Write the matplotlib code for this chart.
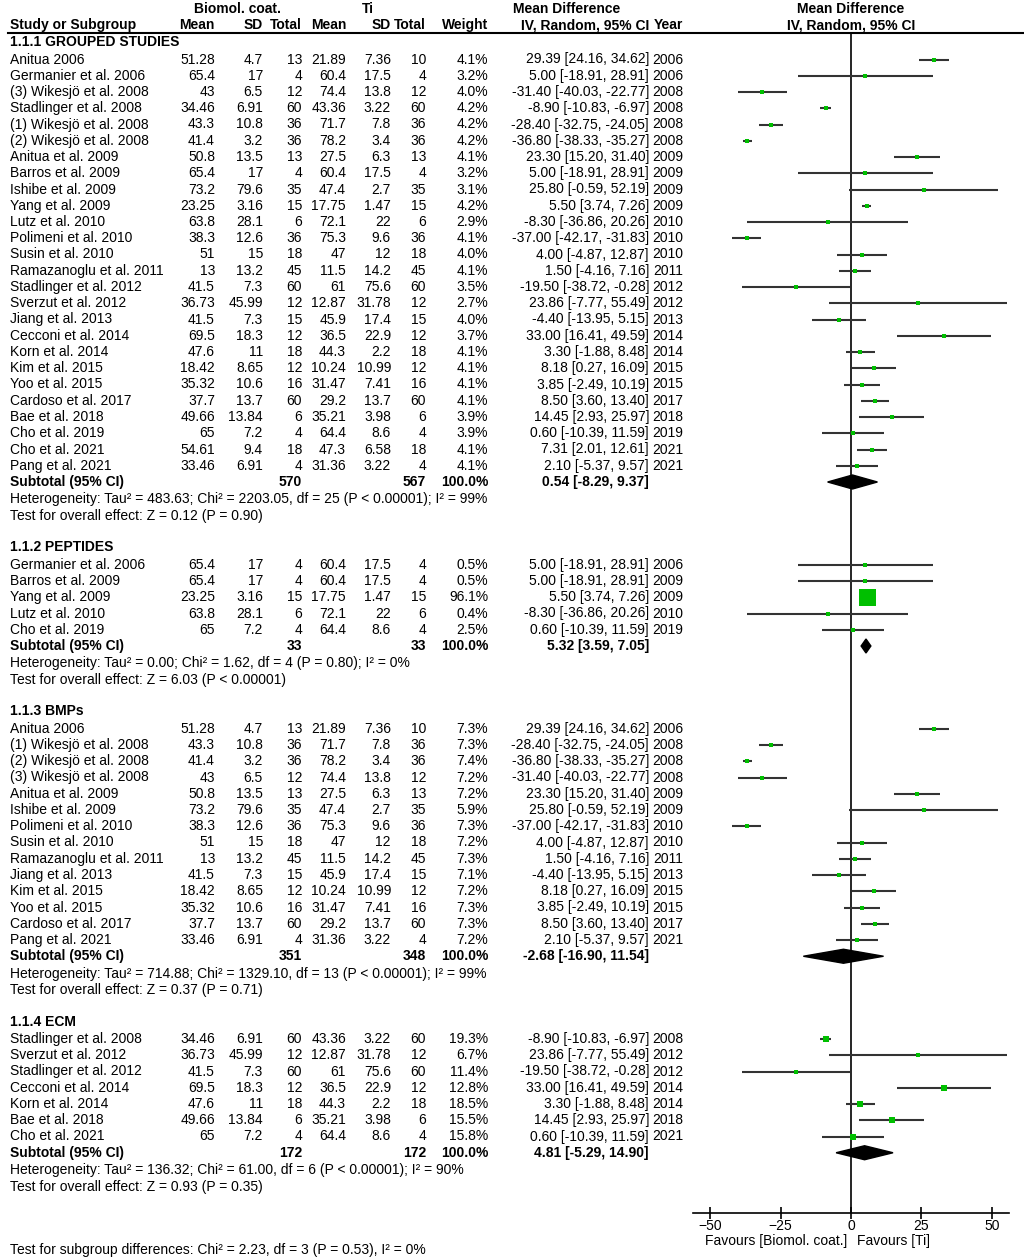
import numpy as np
import matplotlib
matplotlib.use("Agg")
import matplotlib.pyplot as plt
from matplotlib.patches import Polygon

plt.rcParams['font.family'] = ['Liberation Sans', 'DejaVu Sans']
plt.rcParams['font.size'] = 10

# ---- data -------------------------------------------------------------
group_names = ["1.1.1 GROUPED STUDIES", "1.1.2 PEPTIDES", "1.1.3 BMPs", "1.1.4 ECM"]
group_sizes = [26, 5, 14, 7]

study = [
    "Anitua 2006", "Germanier et al. 2006", "(3) Wikesjö et al. 2008", "Stadlinger et al. 2008",
    "(1) Wikesjö et al. 2008", "(2) Wikesjö et al. 2008", "Anitua et al. 2009", "Barros et al. 2009",
    "Ishibe et al. 2009", "Yang et al. 2009", "Lutz et al. 2010", "Polimeni et al. 2010",
    "Susin et al. 2010", "Ramazanoglu et al. 2011", "Stadlinger et al. 2012", "Sverzut et al. 2012",
    "Jiang et al. 2013", "Cecconi et al. 2014", "Korn et al. 2014", "Kim et al. 2015",
    "Yoo et al. 2015", "Cardoso et al. 2017", "Bae et al. 2018", "Cho et al. 2019",
    "Cho et al. 2021", "Pang et al. 2021",
    "Germanier et al. 2006", "Barros et al. 2009", "Yang et al. 2009", "Lutz et al. 2010", "Cho et al. 2019",
    "Anitua 2006", "(1) Wikesjö et al. 2008", "(2) Wikesjö et al. 2008", "(3) Wikesjö et al. 2008",
    "Anitua et al. 2009", "Ishibe et al. 2009", "Polimeni et al. 2010", "Susin et al. 2010",
    "Ramazanoglu et al. 2011", "Jiang et al. 2013", "Kim et al. 2015", "Yoo et al. 2015",
    "Cardoso et al. 2017", "Pang et al. 2021",
    "Stadlinger et al. 2008", "Sverzut et al. 2012", "Stadlinger et al. 2012", "Cecconi et al. 2014",
    "Korn et al. 2014", "Bae et al. 2018", "Cho et al. 2021",
]
bio_mean = [51.28, 65.4, 43, 34.46, 43.3, 41.4, 50.8, 65.4, 73.2, 23.25, 63.8, 38.3, 51, 13, 41.5, 36.73,
            41.5, 69.5, 47.6, 18.42, 35.32, 37.7, 49.66, 65, 54.61, 33.46,
            65.4, 65.4, 23.25, 63.8, 65,
            51.28, 43.3, 41.4, 43, 50.8, 73.2, 38.3, 51, 13, 41.5, 18.42, 35.32, 37.7, 33.46,
            34.46, 36.73, 41.5, 69.5, 47.6, 49.66, 65]
bio_sd = [4.7, 17, 6.5, 6.91, 10.8, 3.2, 13.5, 17, 79.6, 3.16, 28.1, 12.6, 15, 13.2, 7.3, 45.99,
          7.3, 18.3, 11, 8.65, 10.6, 13.7, 13.84, 7.2, 9.4, 6.91,
          17, 17, 3.16, 28.1, 7.2,
          4.7, 10.8, 3.2, 6.5, 13.5, 79.6, 12.6, 15, 13.2, 7.3, 8.65, 10.6, 13.7, 6.91,
          6.91, 45.99, 7.3, 18.3, 11, 13.84, 7.2]
bio_n = [13, 4, 12, 60, 36, 36, 13, 4, 35, 15, 6, 36, 18, 45, 60, 12, 15, 12, 18, 12, 16, 60, 6, 4, 18, 4,
         4, 4, 15, 6, 4,
         13, 36, 36, 12, 13, 35, 36, 18, 45, 15, 12, 16, 60, 4,
         60, 12, 60, 12, 18, 6, 4]
ti_mean = [21.89, 60.4, 74.4, 43.36, 71.7, 78.2, 27.5, 60.4, 47.4, 17.75, 72.1, 75.3, 47, 11.5, 61, 12.87,
           45.9, 36.5, 44.3, 10.24, 31.47, 29.2, 35.21, 64.4, 47.3, 31.36,
           60.4, 60.4, 17.75, 72.1, 64.4,
           21.89, 71.7, 78.2, 74.4, 27.5, 47.4, 75.3, 47, 11.5, 45.9, 10.24, 31.47, 29.2, 31.36,
           43.36, 12.87, 61, 36.5, 44.3, 35.21, 64.4]
ti_sd = [7.36, 17.5, 13.8, 3.22, 7.8, 3.4, 6.3, 17.5, 2.7, 1.47, 22, 9.6, 12, 14.2, 75.6, 31.78,
         17.4, 22.9, 2.2, 10.99, 7.41, 13.7, 3.98, 8.6, 6.58, 3.22,
         17.5, 17.5, 1.47, 22, 8.6,
         7.36, 7.8, 3.4, 13.8, 6.3, 2.7, 9.6, 12, 14.2, 17.4, 10.99, 7.41, 13.7, 3.22,
         3.22, 31.78, 75.6, 22.9, 2.2, 3.98, 8.6]
ti_n = [10, 4, 12, 60, 36, 36, 13, 4, 35, 15, 6, 36, 18, 45, 60, 12, 15, 12, 18, 12, 16, 60, 6, 4, 18, 4,
        4, 4, 15, 6, 4,
        10, 36, 36, 12, 13, 35, 36, 18, 45, 15, 12, 16, 60, 4,
        60, 12, 60, 12, 18, 6, 4]
weight = [4.1, 3.2, 4.0, 4.2, 4.2, 4.2, 4.1, 3.2, 3.1, 4.2, 2.9, 4.1, 4.0, 4.1, 3.5, 2.7,
          4.0, 3.7, 4.1, 4.1, 4.1, 4.1, 3.9, 3.9, 4.1, 4.1,
          0.5, 0.5, 96.1, 0.4, 2.5,
          7.3, 7.3, 7.4, 7.2, 7.2, 5.9, 7.3, 7.2, 7.3, 7.1, 7.2, 7.3, 7.3, 7.2,
          19.3, 6.7, 11.4, 12.8, 18.5, 15.5, 15.8]
md = [29.39, 5.00, -31.40, -8.90, -28.40, -36.80, 23.30, 5.00, 25.80, 5.50, -8.30, -37.00, 4.00, 1.50,
      -19.50, 23.86, -4.40, 33.00, 3.30, 8.18, 3.85, 8.50, 14.45, 0.60, 7.31, 2.10,
      5.00, 5.00, 5.50, -8.30, 0.60,
      29.39, -28.40, -36.80, -31.40, 23.30, 25.80, -37.00, 4.00, 1.50, -4.40, 8.18, 3.85, 8.50, 2.10,
      -8.90, 23.86, -19.50, 33.00, 3.30, 14.45, 0.60]
ci_lo = [24.16, -18.91, -40.03, -10.83, -32.75, -38.33, 15.20, -18.91, -0.59, 3.74, -36.86, -42.17, -4.87,
         -4.16, -38.72, -7.77, -13.95, 16.41, -1.88, 0.27, -2.49, 3.60, 2.93, -10.39, 2.01, -5.37,
         -18.91, -18.91, 3.74, -36.86, -10.39,
         24.16, -32.75, -38.33, -40.03, 15.20, -0.59, -42.17, -4.87, -4.16, -13.95, 0.27, -2.49, 3.60, -5.37,
         -10.83, -7.77, -38.72, 16.41, -1.88, 2.93, -10.39]
ci_hi = [34.62, 28.91, -22.77, -6.97, -24.05, -35.27, 31.40, 28.91, 52.19, 7.26, 20.26, -31.83, 12.87,
         7.16, -0.28, 55.49, 5.15, 49.59, 8.48, 16.09, 10.19, 13.40, 25.97, 11.59, 12.61, 9.57,
         28.91, 28.91, 7.26, 20.26, 11.59,
         34.62, -24.05, -35.27, -22.77, 31.40, 52.19, -31.83, 12.87, 7.16, 5.15, 16.09, 10.19, 13.40, 9.57,
         -6.97, 55.49, -0.28, 49.59, 8.48, 25.97, 11.59]
year = [2006, 2006, 2008, 2008, 2008, 2008, 2009, 2009, 2009, 2009, 2010, 2010, 2010, 2011, 2012, 2012,
        2013, 2014, 2014, 2015, 2015, 2017, 2018, 2019, 2021, 2021,
        2006, 2009, 2009, 2010, 2019,
        2006, 2008, 2008, 2008, 2009, 2009, 2010, 2010, 2011, 2013, 2015, 2015, 2017, 2021,
        2008, 2012, 2012, 2014, 2014, 2018, 2021]

sub_bio_n = [570, 33, 351, 172]
sub_ti_n = [567, 33, 348, 172]
sub_md = [0.54, 5.32, -2.68, 4.81]
sub_lo = [-8.29, 3.59, -16.90, -5.29]
sub_hi = [9.37, 7.05, 11.54, 14.90]
het_text = [
    "Heterogeneity: Tau² = 483.63; Chi² = 2203.05, df = 25 (P < 0.00001); I² = 99%",
    "Heterogeneity: Tau² = 0.00; Chi² = 1.62, df = 4 (P = 0.80); I² = 0%",
    "Heterogeneity: Tau² = 714.88; Chi² = 1329.10, df = 13 (P < 0.00001); I² = 99%",
    "Heterogeneity: Tau² = 136.32; Chi² = 61.00, df = 6 (P < 0.00001); I² = 90%",
]
effect_text = [
    "Test for overall effect: Z = 0.12 (P = 0.90)",
    "Test for overall effect: Z = 6.03 (P < 0.00001)",
    "Test for overall effect: Z = 0.37 (P = 0.71)",
    "Test for overall effect: Z = 0.93 (P = 0.35)",
]
subgroup_test = "Test for subgroup differences: Chi² = 2.23, df = 3 (P = 0.53), I² = 0%"
x_ticks = [-50, -25, 0, 25, 50]

# ---- layout (pixel units) ---------------------------------------------
W, H = 1024, 1258
LINE = 16.25
col_right = [215, 263, 302, 346, 391, 426, 488, 649, 683]
GREEN = '#00bf00'

fig = plt.figure(figsize=(W / 100, H / 100), dpi=100)
bg = fig.add_axes([0, 0, 1, 1])
bg.set_xlim(0, W)
bg.set_ylim(H, 0)
bg.axis('off')

fa_left, fa_right, fa_top, fa_bot = 693, 1009, 33, 1213
fa = fig.add_axes([fa_left / W, 1 - fa_bot / H, (fa_right - fa_left) / W, (fa_bot - fa_top) / H])
fa.set_xlim(-56.03, 56.03)
fa.set_ylim(fa_bot, fa_top)
for s in ['top', 'left', 'right']:
    fa.spines[s].set_visible(False)
fa.spines['bottom'].set_linewidth(1.2)
fa.set_yticks([])
fa.set_xticks(x_ticks)
fa.set_xticklabels([str(t).replace('-', '−') for t in x_ticks])
fa.tick_params(axis='x', direction='inout', length=8, width=1.2, labelsize=10, pad=0)
fa.axvline(0, color='black', lw=1.2, zorder=1)
fa.patch.set_alpha(0)

# header
bg.text(238, 9, "Biomol. coat.", ha='center', va='center', fontweight='bold')
bg.text(368, 9, "Ti", ha='center', va='center', fontweight='bold')
bg.text(567, 9, "Mean Difference", ha='center', va='center', fontweight='bold')
bg.text(851, 9, "Mean Difference", ha='center', va='center', fontweight='bold')
bg.text(10, 25, "Study or Subgroup", ha='left', va='center', fontweight='bold')
for lab, xr in zip(["Mean", "SD", "Total", "Mean", "SD", "Total", "Weight",
                    "IV, Random, 95% CI", "Year"], col_right):
    bg.text(xr, 25, lab, ha='right', va='center', fontweight='bold')
bg.text(851, 25, "IV, Random, 95% CI", ha='center', va='center', fontweight='bold')
bg.plot([8, W], [33, 33], color='black', lw=1.5)

# rows
y = 42
k = 0
for g, name in enumerate(group_names):
    bg.text(10, y, name, ha='left', va='center', fontweight='bold')
    y += 17.5
    for _ in range(group_sizes[g]):
        vals = [f"{bio_mean[k]:g}", f"{bio_sd[k]:g}", f"{bio_n[k]}",
                f"{ti_mean[k]:g}", f"{ti_sd[k]:g}", f"{ti_n[k]}",
                f"{weight[k]:.1f}%",
                f"{md[k]:.2f} [{ci_lo[k]:.2f}, {ci_hi[k]:.2f}]", f"{year[k]}"]
        bg.text(10, y, study[k], ha='left', va='center')
        for v, xr in zip(vals, col_right):
            bg.text(xr, y, v, ha='right', va='center')
        fa.plot([ci_lo[k], ci_hi[k]], [y, y], color='#333333', lw=1.5, zorder=2,
                solid_capstyle='butt', clip_on=True)
        side_px = max(3.5, 17 * (weight[k] / 96.1) ** 0.6)
        fa.scatter([md[k]], [y], marker='s', s=(side_px * 0.72) ** 2, color=GREEN,
                   linewidths=0, zorder=3)
        y += LINE
        k += 1
    # subtotal
    bg.text(10, y, "Subtotal (95% CI)", ha='left', va='center', fontweight='bold')
    bg.text(col_right[2], y, f"{sub_bio_n[g]}", ha='right', va='center', fontweight='bold')
    bg.text(col_right[5], y, f"{sub_ti_n[g]}", ha='right', va='center', fontweight='bold')
    bg.text(col_right[6], y, "100.0%", ha='right', va='center', fontweight='bold')
    bg.text(col_right[7], y, f"{sub_md[g]:.2f} [{sub_lo[g]:.2f}, {sub_hi[g]:.2f}]",
            ha='right', va='center', fontweight='bold')
    fa.add_patch(Polygon([(sub_lo[g], y), (sub_md[g], y - 7), (sub_hi[g], y), (sub_md[g], y + 7)],
                         closed=True, color='black', zorder=4))
    y += 17.5
    bg.text(10, y, het_text[g], ha='left', va='center')
    y += LINE
    bg.text(10, y, effect_text[g], ha='left', va='center')
    y += 31.5

# footer
bg.text(847, 1241, "Favours [Biomol. coat.]", ha='right', va='center')
bg.text(857, 1241, "Favours [Ti]", ha='left', va='center')
bg.text(10, 1250, subgroup_test, ha='left', va='center')

fig.savefig("out.png", dpi=100)
